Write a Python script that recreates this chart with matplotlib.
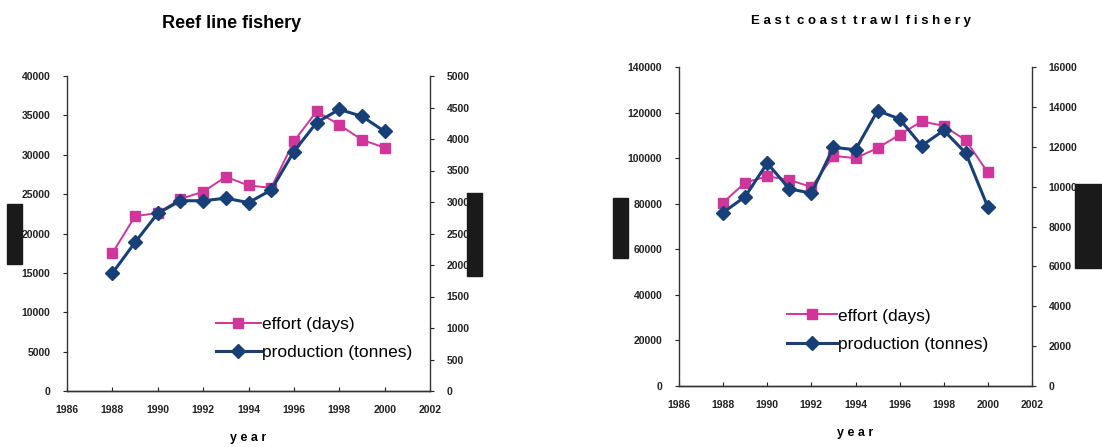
import matplotlib
matplotlib.use("Agg")
import matplotlib.pyplot as plt
from matplotlib.patches import Rectangle

plt.rcParams['font.family'] = ['Liberation Sans', 'DejaVu Sans']

# Dados: anos e séries dos dois gráficos
anos = [1988, 1989, 1990, 1991, 1992, 1993, 1994, 1995, 1996, 1997, 1998, 1999, 2000]

reef_effort = [17500, 22200, 22600, 24400, 25300, 27200, 26100, 25800, 31700, 35500, 33800, 31900, 30900]
reef_prod = [1870, 2360, 2820, 3020, 3020, 3060, 2990, 3190, 3800, 4260, 4470, 4360, 4120]

trawl_effort = [80500, 89300, 92000, 90500, 87300, 101000, 100000, 104400, 110300, 116100, 114200, 107800, 93700]
trawl_prod = [8700, 9500, 11180, 9890, 9670, 11970, 11850, 13810, 13390, 12050, 12820, 11680, 8970]

titulos = ["Reef line fishery", "East coast trawl fishery"]
cor_effort = "#D0359A"
cor_prod = "#173F78"

W, H = 1102, 447
fig = plt.figure(figsize=(W / 100, H / 100), dpi=100)


def eixo(px_left, px_top, px_right, px_bottom):
    return fig.add_axes([px_left / W, 1 - px_bottom / H,
                         (px_right - px_left) / W, (px_bottom - px_top) / H])


def grafico(ax, effort, prod, ymax_l, ystep_l, ymax_r, ystep_r, leg_pos, hl):
    ax2 = ax.twinx()
    l1, = ax.plot(anos, effort, color=cor_effort, lw=1.4, marker='s', ms=7.5,
                  mfc=cor_effort, mec=cor_effort, label="effort (days)")
    l2, = ax2.plot(anos, prod, color=cor_prod, lw=2.2, marker='D', ms=7.5,
                   mfc=cor_prod, mec=cor_prod, label="production (tonnes)")
    ax.set_xlim(1986, 2002)
    ax.set_xticks(range(1986, 2003, 2))
    ax.set_ylim(0, ymax_l)
    ax.set_yticks(range(0, ymax_l + 1, ystep_l))
    ax2.set_ylim(0, ymax_r)
    ax2.set_yticks(range(0, ymax_r + 1, ystep_r))
    for a in (ax, ax2):
        a.spines['top'].set_visible(False)
        for s in a.spines.values():
            s.set_color("#333333")
            s.set_linewidth(1.0)
        a.tick_params(labelsize=7.5, width=0.8, length=3, colors="#222222")
    ax.tick_params(axis='x', direction='in', pad=10)
    ax.tick_params(axis='y', direction='out', pad=9)
    ax2.tick_params(axis='y', direction='out', pad=9)
    ax2.spines['left'].set_visible(False)
    ax.spines['right'].set_visible(False)
    for t in ax.get_xticklabels() + ax.get_yticklabels() + ax2.get_yticklabels():
        t.set_fontweight('bold')
    ax.set_xlabel("y e a r", fontsize=9, fontweight='bold', labelpad=12)
    ax.legend([l1, l2], ["effort (days)", "production (tonnes)"], loc='upper left',
              bbox_to_anchor=leg_pos, frameon=False, fontsize=12.5, handlelength=hl,
              handletextpad=0.05, labelspacing=0.75, borderaxespad=0)
    return ax2


ax_a = eixo(67, 76, 430, 391)
grafico(ax_a, reef_effort, reef_prod, 40000, 5000, 5000, 500, (0.39, 0.257), 2.6)
fig.text(232 / W, 1 - 23 / H, titulos[0], ha='center', va='center',
         fontsize=13, fontweight='bold')

ax_b = eixo(679, 67, 1032, 386)
grafico(ax_b, trawl_effort, trawl_prod, 140000, 20000, 16000, 2000, (0.285, 0.265), 2.9)
fig.text(861 / W, 1 - 21 / H, "E a s t  c o a s t  t r a w l  f i s h e r y", ha='center',
         va='center', fontsize=9.5, fontweight='bold')

# retângulos pretos (rótulos ocultos no original)
for x0, y0, x1, y1 in [(7, 204, 22, 264), (467, 193, 482, 276),
                       (613, 198, 628, 258), (1075, 184, 1102, 268)]:
    fig.patches.append(Rectangle((x0 / W, 1 - y1 / H), (x1 - x0) / W, (y1 - y0) / H,
                                 transform=fig.transFigure, color="#1A1A1A", zorder=5))

fig.savefig("out.png", dpi=100)
